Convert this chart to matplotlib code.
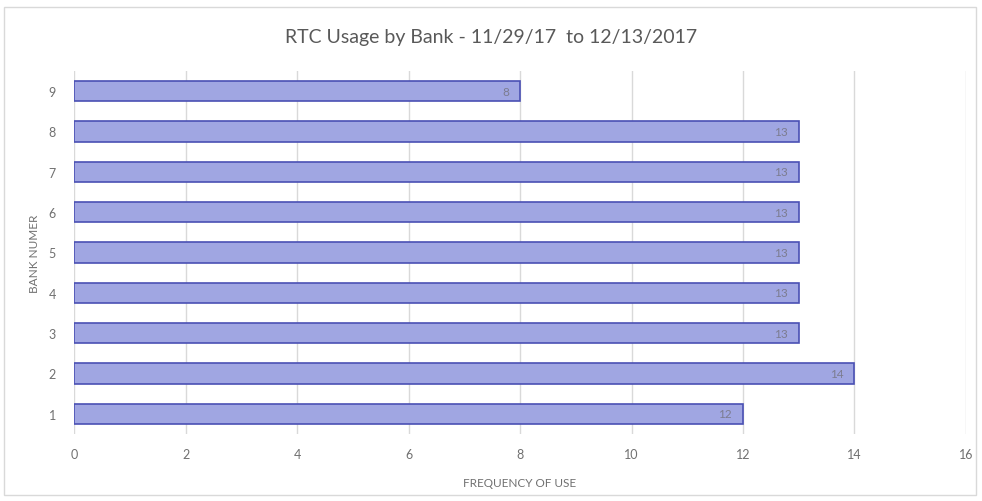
import matplotlib.pyplot as plt
from matplotlib.patches import Rectangle

plt.rcParams['font.family'] = ['Lato', 'DejaVu Sans']

# data
banks = ['1', '2', '3', '4', '5', '6', '7', '8', '9']
usage = [12, 14, 13, 13, 13, 13, 13, 13, 8]
x_ticks = [0, 2, 4, 6, 8, 10, 12, 14, 16]

bar_color = '#a0a6e2'
edge_color = '#4a50b4'
text_grey = '#707070'

fig = plt.figure(figsize=(9.82, 5.02), dpi=100)
ax = fig.add_axes([0.0754, 0.1335, 0.9083, 0.7231])

# light frame around the whole chart
fig.patches.append(Rectangle((0.004, 0.012), 0.99, 0.972, transform=fig.transFigure,
                             fill=False, edgecolor='#d9d9d9', linewidth=1))

pos = list(range(1, len(banks) + 1))
bars = ax.barh(pos, usage, height=0.5, color=bar_color, edgecolor=edge_color,
               linewidth=1.2, zorder=3)

# value labels just inside the bar end
for bar, v in zip(bars, usage):
    ax.text(bar.get_width() - 0.2, bar.get_y() + bar.get_height() / 2, str(v),
            ha='right', va='center', fontsize=8.5, color='#7c7c90', zorder=4)

ax.set_xlim(0, 16)
ax.set_ylim(0.5, len(banks) + 0.5)
ax.set_xticks(x_ticks)
ax.set_yticks(pos)
ax.set_yticklabels(banks)
ax.grid(axis='x', color='#d9d9d9', linewidth=1, zorder=0)
for s in ax.spines.values():
    s.set_visible(False)
ax.tick_params(length=0, labelsize=9, colors=text_grey, pad=10)
ax.tick_params(axis='y', pad=13)

ax.set_xlabel('FREQUENCY OF USE', fontsize=8.5, color=text_grey, labelpad=12)
ax.set_ylabel('BANK NUMER', fontsize=8.5, color=text_grey, labelpad=6)
fig.text(0.5, 0.925, 'RTC Usage by Bank - 11/29/17  to 12/13/2017', ha='center', va='center',
         fontsize=14, color='#595959')

plt.savefig('out.png', dpi=100)
